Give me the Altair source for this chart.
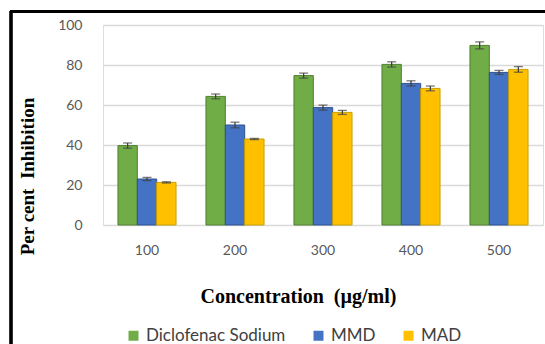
import altair as alt
import pandas as pd

concentrations = ["100", "200", "300", "400", "500"]
series = ["Diclofenac Sodium", "MMD", "MAD"]
diclofenac = [39.7, 64.3, 74.7, 80.3, 89.8]
mmd = [23.0, 50.0, 58.7, 70.8, 76.3]
mad = [21.3, 43.0, 56.3, 68.3, 77.8]
diclofenac_err = [1.3, 1.2, 1.25, 1.3, 1.75]
mmd_err = [0.8, 1.4, 1.25, 1.3, 1.0]
mad_err = [0.3, 0.3, 1.0, 1.2, 1.4]
y_ticks = [0, 20, 40, 60, 80, 100]
fills = ["#70AD47", "#4472C4", "#FFC000"]
outlines = ["#507E32", "#2F528F", "#C9A000"]

rows = []
for name, vals, errs in zip(series, [diclofenac, mmd, mad], [diclofenac_err, mmd_err, mad_err]):
    for c, v, e in zip(concentrations, vals, errs):
        rows.append({"conc": c, "series": name, "value": v, "err": e})
df = pd.DataFrame(rows)

y_scale = alt.Scale(domain=[0, 100], nice=False, zero=True)
y_axis = alt.Axis(title="Per cent\u00a0\u00a0Inhibition", values=y_ticks, ticks=False,
                  domain=False, grid=True, gridColor="#D9D9D9", gridWidth=1.3,
                  labelOverlap=False, labelFont="Lato", labelFontSize=14,
                  labelColor="#595959", labelPadding=21,
                  titleFont="Liberation Serif", titleFontSize=19, titleFontWeight="bold",
                  titleColor="#000000", titleAngle=270, titleX=-75.5, titleY=151,
                  titleBaseline="middle", titleAlign="center")
x_axis = alt.Axis(title="Concentration\u00a0\u00a0(µg/ml)", labelAngle=0, ticks=False, domain=False,
                  grid=False, labelFont="Lato", labelFontSize=14, labelColor="#595959",
                  labelPadding=18,
                  titleFont="Liberation Serif", titleFontSize=20, titleFontWeight="bold",
                  titleColor="#000000", titleX=195, titleY=71, titleBaseline="middle",
                  titleAlign="center", titleAnchor="start")
x = alt.X("conc:N", sort=concentrations, scale=alt.Scale(paddingInner=0.34, paddingOuter=0.17),
          axis=x_axis)
xo = alt.XOffset("series:N", sort=series)

bars = alt.Chart(df).mark_bar(strokeWidth=1).encode(
    x=x,
    xOffset=xo,
    y=alt.Y("value:Q", scale=y_scale, axis=y_axis),
    fill=alt.Fill("series:N", sort=series, scale=alt.Scale(domain=series, range=fills),
                  legend=alt.Legend(title=None, orient="none", direction="horizontal",
                                    legendX=22, legendY=302, symbolType="square", symbolSize=100,
                                    symbolStrokeWidth=0, labelFont="Lato", labelFontSize=17,
                                    labelColor="#404040", labelOffset=4, columnPadding=24,
                                    symbolOffset=0)),
    stroke=alt.Stroke("series:N", sort=series, scale=alt.Scale(domain=series, range=outlines),
                      legend=None),
)

base = alt.Chart(df).transform_calculate(
    lo="datum.value - datum.err", hi="datum.value + datum.err"
)

whiskers = base.mark_rule(color="#404040", strokeWidth=1.3).encode(
    x=x, xOffset=xo,
    y=alt.Y("lo:Q", scale=y_scale, axis=y_axis), y2="hi:Q",
)
caps_lo = base.mark_tick(color="#404040", thickness=1.3, size=9).encode(
    x=x, xOffset=xo, y=alt.Y("lo:Q", scale=y_scale, axis=y_axis),
)
caps_hi = base.mark_tick(color="#404040", thickness=1.3, size=9).encode(
    x=x, xOffset=xo, y=alt.Y("hi:Q", scale=y_scale, axis=y_axis),
)

# outer frame: left and top edges of the figure border
frame_left = alt.Chart(df).mark_rule(color="#000000", strokeWidth=2.2, clip=False).encode(
    x=alt.value(-92), y=alt.value(-14), y2=alt.value(330)
)
frame_top = alt.Chart(df).mark_rule(color="#000000", strokeWidth=2.2, clip=False).encode(
    x=alt.value(-93), x2=alt.value(460), y=alt.value(-13.5)
)

chart = alt.layer(bars, whiskers, caps_lo, caps_hi, frame_left, frame_top).properties(
    width=440, height=200,
    autosize=alt.AutoSizeParams(type="none"),
    padding={"left": 103, "top": 25, "right": 2, "bottom": 119},
).configure_view(
    strokeWidth=0, stroke="transparent"
).configure_axis(
    domain=False, domainColor="transparent", tickColor="transparent"
).configure_axisX(
    grid=False
).configure(background="#FFFFFF")

chart.save("out.html", embed_options={"renderer": "svg", "actions": False})
